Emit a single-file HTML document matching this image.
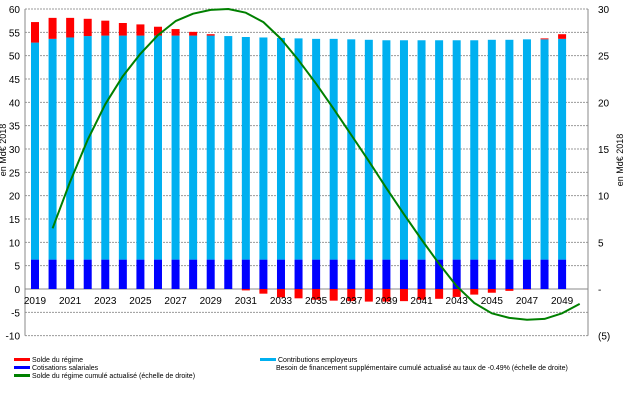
<!DOCTYPE html>
<html><head><meta charset="utf-8"><style>
body{margin:0;background:#fff;}
svg{display:block;font-family:"Liberation Sans",Arial,sans-serif;}
</style></head><body>
<svg id="c" width="643" height="405" viewBox="0 0 643 405" xmlns="http://www.w3.org/2000/svg"></svg>
<script>
const years=[2019,2020,2021,2022,2023,2024,2025,2026,2027,2028,2029,2030,2031,2032,2033,2034,2035,2036,2037,2038,2039,2040,2041,2042,2043,2044,2045,2046,2047,2048,2049];
const cotisations=[6.3,6.3,6.3,6.3,6.3,6.3,6.3,6.3,6.3,6.3,6.3,6.3,6.3,6.3,6.3,6.3,6.3,6.3,6.3,6.3,6.3,6.3,6.3,6.3,6.3,6.3,6.3,6.3,6.3,6.3,6.3];
const contributions=[46.5,47.3,47.6,47.9,48.0,48.0,48.0,48.0,48.0,48.0,48.0,47.9,47.7,47.6,47.5,47.4,47.3,47.3,47.2,47.1,47.0,47.0,47.0,47.0,47.0,47.0,47.1,47.1,47.2,47.2,47.3];
const solde=[4.4,4.5,4.2,3.7,3.2,2.7,2.4,1.9,1.4,0.8,0.3,0,-0.3,-1.0,-1.8,-2.0,-2.3,-2.5,-2.6,-2.7,-2.7,-2.6,-2.3,-2.1,-1.7,-1.2,-0.8,-0.4,-0.1,0.2,1.0];
const cumYears=[2020,2021,2022,2023,2024,2025,2026,2027,2028,2029,2030,2031,2032,2033,2034,2035,2036,2037,2038,2039,2040,2041,2042,2043,2044,2045,2046,2047,2048,2049,2050];
const cumule=[6.5,11.5,16,19.8,22.8,25.2,27.2,28.7,29.5,29.9,30,29.6,28.6,26.8,24.5,22,19.3,16.5,13.7,10.8,8,5.3,2.7,0.3,-1.5,-2.6,-3.1,-3.3,-3.2,-2.6,-1.6];
const leftTicks=[60,55,50,45,40,35,30,25,20,15,10,5,0,-5,-10];
const rightTicks=[30,25,20,15,10,5,0,-5];
const rightLabels=["30","25","20","15","10","5","-","(5)"];

const svg=document.getElementById('c');
const NS="http://www.w3.org/2000/svg";
function mk(t,a,p){const e=document.createElementNS(NS,t);for(const k in a)e.setAttribute(k,a[k]);(p||svg).appendChild(e);return e;}
const X0=25,X1=588;
const yL=v=>289-v*(280/60);
const yR=v=>289-v*(280/30);
const xY=y=>35+(y-2019)*17.57;

const grid=mk('g',{});


leftTicks.forEach(v=>{
  mk('line',{x1:X0,x2:X1,y1:yL(v),y2:yL(v),stroke:v===0?'#888':'#999','stroke-width':1,'stroke-dasharray':v===0?'':'2,1'},grid);
});
const yl=mk('g',{});


mk('line',{x1:X0,x2:X0,y1:yL(60),y2:yL(-10),stroke:'#888'},yl);
mk('line',{x1:X1,x2:X1,y1:yL(60),y2:yL(-10),stroke:'#888'},yl);
leftTicks.forEach(v=>{const t=mk('text',{x:20,y:yL(v)+4,'text-anchor':'end','font-size':10},yl);t.textContent=v;});
const yr=mk('g',{});


rightTicks.forEach((v,i)=>{const t=mk('text',{x:598,y:yR(v)+4,'font-size':10},yr);t.textContent=rightLabels[i];});
const lt=mk('text',{transform:'translate(6,150) rotate(-90)','text-anchor':'middle','font-size':9});
lt.textContent='en Md€ 2018';
const rt=mk('text',{transform:'translate(623,160) rotate(-90)','text-anchor':'middle','font-size':9});
rt.textContent='en Md€ 2018';

const bars=mk('g',{});


const bw=8;
years.forEach((y,i)=>{
  const x=xY(y)-bw/2;
  const c=cotisations[i],e=contributions[i],s=solde[i];
  const b1=mk('rect',{x:x,y:yL(c),width:bw,height:yL(0)-yL(c),fill:'#0000ff'},bars);
  
  const b2=mk('rect',{x:x,y:yL(c+e),width:bw,height:yL(c)-yL(c+e),fill:'#00b0f0'},bars);
  
  let r;
  if(s>0) r=mk('rect',{x:x,y:yL(c+e+s),width:bw,height:yL(c+e)-yL(c+e+s),fill:'#ff0000'},bars);
  else if(s<0) r=mk('rect',{x:x,y:yL(0),width:bw,height:yL(s)-yL(0),fill:'#ff0000'},bars);
  if(r){}
});
const xl=mk('g',{});


years.forEach(y=>{if(y%2===1){const t=mk('text',{x:xY(y),y:304,'text-anchor':'middle','font-size':10},xl);t.textContent=y;}});

let d='';
cumYears.forEach((y,i)=>{d+=(i?'L':'M')+xY(y).toFixed(1)+','+yR(cumule[i]).toFixed(1);});
const ln=mk('path',{d:d,fill:'none',stroke:'#008000','stroke-width':2,'stroke-linejoin':'round'});


const lg=mk('g',{'font-size':7});


function entry(x,y,col,txt,name){
  if(col)mk('rect',{x:x,y:y-2,width:16,height:3,fill:col},lg);
  const t=mk('text',{x:x+(col?18:0),y:y+2},lg);t.textContent=txt;
  
}
entry(14,360,'#ff0000','Solde du régime','legend-solde');
entry(14,368,'#0000ff','Cotisations salariales','legend-cotisations');
entry(14,376,'#008000','Solde du régime cumulé actualisé (échelle de droite)','legend-cumule');
entry(260,360,'#00b0f0','Contributions employeurs','legend-contributions');
entry(276,368,null,'Besoin  de financement supplémentaire cumulé actualisé  au taux de  -0.49% (échelle de droite)','legend-besoin');
</script>
</body></html>
